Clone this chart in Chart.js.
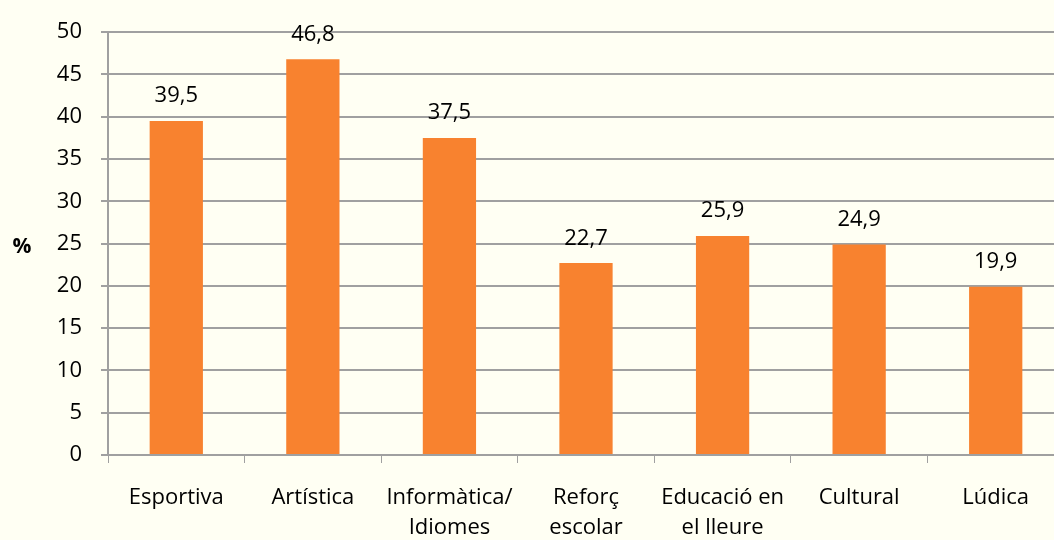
<!DOCTYPE html>
<html lang="ca">
  <head>
    <meta charset="UTF-8" />
    <title>Activitats extraescolars</title>
    <style>
      html, body { margin: 0; padding: 0; overflow: hidden; background: #fffff3; }
      #wrap { width: 1064px; height: 540px; }
    </style>
  </head>
  <body>
    <div id="wrap"><canvas id="grafic"></canvas></div>

    <script src="https://cdn.jsdelivr.net/npm/chart.js"></script>
    <script>
      const categories = [
        "Esportiva",
        "Artística",
        ["Informàtica/", "Idiomes"],
        ["Reforç", "escolar"],
        ["Educació en", "el lleure"],
        "Cultural",
        "Lúdica",
      ];
      const valors = [39.5, 46.8, 37.5, 22.7, 25.9, 24.9, 19.9];
      const yTicks = { min: 0, max: 50, step: 5 };

      const FONT = "'Open Sans', 'DejaVu Sans', sans-serif";

      // etiquetes damunt de cada barra (coma decimal)
      const etiquetes = {
        id: "etiquetes",
        afterDatasetsDraw(chart) {
          const ctx = chart.ctx;
          const meta = chart.getDatasetMeta(0);
          ctx.save();
          ctx.font = "22px " + FONT;
          ctx.fillStyle = "#000";
          ctx.textAlign = "center";
          ctx.textBaseline = "alphabetic";
          meta.data.forEach((bar, i) => {
            ctx.fillText(valors[i].toFixed(1).replace(".", ","), bar.x, bar.y - 18.5);
          });
          // títol de l'eix Y, horitzontal
          const a = chart.chartArea;
          ctx.font = "bold 21px " + FONT;
          ctx.textBaseline = "middle";
          ctx.fillText("%", 22, (a.top + a.bottom) / 2 + 3);
          ctx.restore();
        },
      };

      new Chart(document.getElementById("grafic"), {
        type: "bar",
        data: {
          labels: categories,
          datasets: [
            {
              data: valors,
              backgroundColor: "#f8822f",
              categoryPercentage: 1,
              barPercentage: 0.39,
            },
          ],
        },
        options: {
          responsive: true,
          maintainAspectRatio: false,
          animation: false,
          layout: { padding: { top: 27, left: 0, right: 0, bottom: 0 } },
          plugins: {
            legend: { display: false },
            tooltip: { enabled: false },
          },
          scales: {
            x: {
              afterFit(scale) { scale.height = 85; },
              grid: {
                offset: true,
                drawOnChartArea: false,
                drawTicks: true,
                tickLength: 8,
                color: "#a0a0a0",
              },
              border: { color: "#a0a0a0", width: 2 },
              ticks: {
                color: "#000",
                padding: 20,
                maxRotation: 0,
                autoSkip: false,
                font: { family: FONT, size: 22, lineHeight: 1.36 },
              },
            },
            y: {
              min: yTicks.min,
              max: yTicks.max,
              afterFit(scale) { scale.width = 108; },
              grid: {
                color: "#a0a0a0",
                lineWidth: 2,
                tickLength: 7,
              },
              border: { color: "#a0a0a0", width: 2 },
              ticks: {
                stepSize: yTicks.step,
                color: "#000",
                padding: 19,
                font: { family: FONT, size: 22 },
              },
            },
          },
        },
        plugins: [etiquetes],
      });
    </script>
  </body>
</html>
